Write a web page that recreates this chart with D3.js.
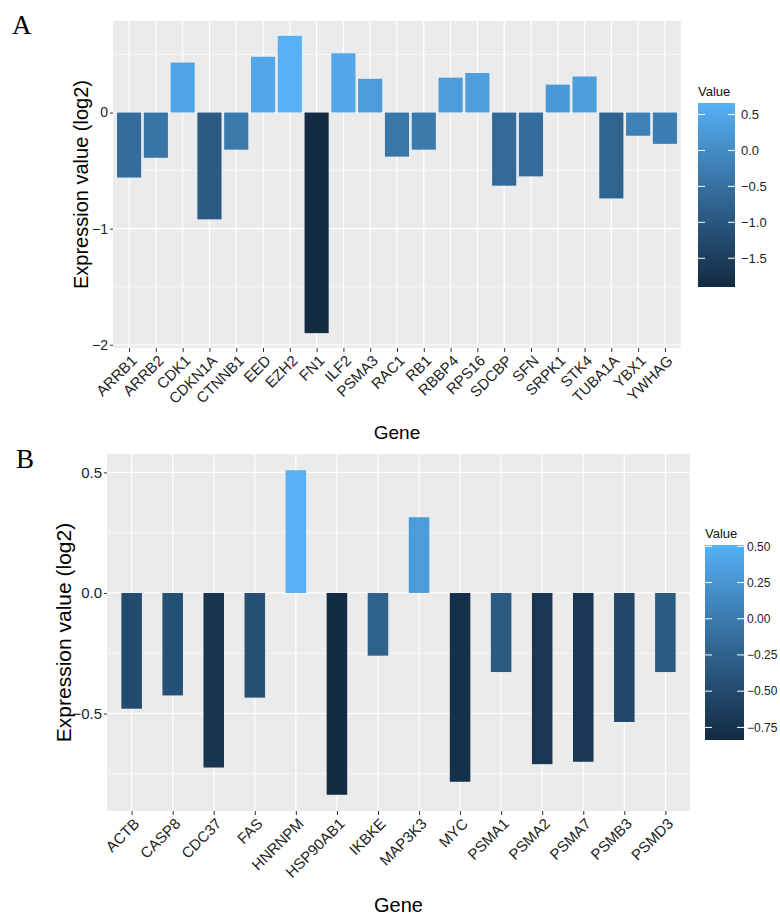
<!DOCTYPE html>
<html>
<head>
<meta charset="utf-8">
<script src="https://cdn.jsdelivr.net/npm/d3@7"></script>
<style>
  body { margin: 0; background: #fff; }
  text { font-family: "Liberation Sans", Arial, sans-serif; }
  text.letter { font-family: "Liberation Serif", "DejaVu Serif", serif; }
</style>
</head>
<body>
<script>
  // panel A data
  var genesA = ["ARRB1", "ARRB2", "CDK1", "CDKN1A", "CTNNB1", "EED", "EZH2", "FN1", "ILF2", "PSMA3", "RAC1",
    "RB1", "RBBP4", "RPS16", "SDCBP", "SFN", "SRPK1", "STK4", "TUBA1A", "YBX1", "YWHAG"];
  var valuesA = [-0.56, -0.39, 0.43, -0.92, -0.32, 0.48, 0.66, -1.90, 0.51, 0.29, -0.38,
    -0.32, 0.30, 0.34, -0.63, -0.55, 0.24, 0.31, -0.74, -0.20, -0.27];
  var yTicksA = [0, -1, -2];
  var yMinorA = [0.5, -0.5, -1.5];
  var legTicksA = [0.5, 0, -0.5, -1, -1.5];

  // panel B data
  var genesB = ["ACTB", "CASP8", "CDC37", "FAS", "HNRNPM", "HSP90AB1", "IKBKE", "MAP3K3", "MYC",
    "PSMA1", "PSMA2", "PSMA7", "PSMB3", "PSMD3"];
  var valuesB = [-0.48, -0.425, -0.724, -0.434, 0.509, -0.837, -0.26, 0.314, -0.783,
    -0.328, -0.71, -0.70, -0.535, -0.328];
  var yTicksB = [0.5, 0, -0.5];
  var yMinorB = [0.25, -0.25, -0.75];
  var legTicksB = [0.5, 0.25, 0, -0.25, -0.5, -0.75];

  var LOW = "#132B43", HIGH = "#56B1F7";

  var svg = d3.select("body").append("svg")
    .attr("width", 780)
    .attr("height", 920);

  var drawPanel = function(cfg) {
    var data = cfg.genes.map(function(g, i) { return {gene: g, value: cfg.values[i]}; });
    var ext = d3.extent(cfg.values);
    var pad = (ext[1] - ext[0]) * 0.05;

    // discrete axis with 0.6 expansion like ggplot
    var n = cfg.genes.length;
    var step = (cfg.x1 - cfg.x0) / (n - 1 + 1.2);
    var x = d3.scalePoint()
      .domain(cfg.genes)
      .range([cfg.x0 + 0.6 * step, cfg.x1 - 0.6 * step]);

    var y = d3.scaleLinear()
      .domain([ext[0] - pad, ext[1] + pad])
      .range([cfg.y1, cfg.y0]);

    var color = d3.scaleLinear()
      .domain(ext)
      .range([LOW, HIGH])
      .interpolate(d3.interpolateLab);

    var g = svg.append("g");

    g.append("rect")
      .attr("x", cfg.x0)
      .attr("y", cfg.y0)
      .attr("width", cfg.x1 - cfg.x0)
      .attr("height", cfg.y1 - cfg.y0)
      .attr("fill", "#EBEBEB");

    // grid
    g.selectAll(".minor")
      .data(cfg.minor)
      .enter()
      .append("line")
      .attr("x1", cfg.x0).attr("x2", cfg.x1)
      .attr("y1", function(d) { return y(d); })
      .attr("y2", function(d) { return y(d); })
      .attr("stroke", "#fff")
      .attr("stroke-width", 0.6);

    g.selectAll(".major")
      .data(cfg.ticks)
      .enter()
      .append("line")
      .attr("x1", cfg.x0).attr("x2", cfg.x1)
      .attr("y1", function(d) { return y(d); })
      .attr("y2", function(d) { return y(d); })
      .attr("stroke", "#fff")
      .attr("stroke-width", 1.2);

    g.selectAll(".vgrid")
      .data(cfg.genes)
      .enter()
      .append("line")
      .attr("x1", function(d) { return x(d); })
      .attr("x2", function(d) { return x(d); })
      .attr("y1", cfg.y0).attr("y2", cfg.y1)
      .attr("stroke", "#fff")
      .attr("stroke-width", 1.2);

    // bars
    var bw = step * cfg.barWidth;
    g.selectAll(".bar")
      .data(data)
      .enter()
      .append("rect")
      .attr("x", function(d) { return x(d.gene) - bw / 2; })
      .attr("y", function(d) { return y(Math.max(0, d.value)); })
      .attr("width", bw)
      .attr("height", function(d) { return Math.abs(y(d.value) - y(0)); })
      .attr("fill", function(d) { return color(d.value); });

    // y axis
    var yAxis = g.append("g")
      .attr("transform", "translate(" + cfg.x0 + ",0)")
      .call(d3.axisLeft(y).tickValues(cfg.ticks).tickSize(3).tickPadding(2)
        .tickFormat(function(d) { return cfg.fmt(d); }));
    yAxis.select(".domain").remove();
    yAxis.selectAll("line").attr("stroke", "#333");
    yAxis.selectAll("text")
      .attr("font-size", cfg.tickFont)
      .attr("fill", "#222");

    // x axis
    var xAxis = g.append("g")
      .attr("transform", "translate(0," + cfg.y1 + ")")
      .call(d3.axisBottom(x).tickSize(4).tickFormat(""));
    xAxis.select(".domain").remove();
    xAxis.selectAll("line").attr("stroke", "#333");

    g.selectAll(".xlab")
      .data(cfg.genes)
      .enter()
      .append("text")
      .attr("transform", function(d) {
        return "translate(" + (x(d) + 5) + "," + (cfg.y1 + 10) + ") rotate(-45)";
      })
      .attr("text-anchor", "end")
      .attr("dy", "0.35em")
      .attr("font-size", cfg.labFont)
      .attr("fill", "#222")
      .text(function(d) { return d; });

    // titles
    g.append("text")
      .attr("transform", "translate(" + cfg.yTitleX + "," + ((cfg.y0 + cfg.y1) / 2) + ") rotate(-90)")
      .attr("text-anchor", "middle")
      .attr("font-size", cfg.titleFont)
      .attr("fill", "#000")
      .text("Expression value (log2)");

    g.append("text")
      .attr("x", (cfg.x0 + cfg.x1) / 2)
      .attr("y", cfg.xTitleY)
      .attr("text-anchor", "middle")
      .attr("font-size", cfg.xTitleFont)
      .attr("fill", "#000")
      .text("Gene");

    g.append("text")
      .attr("class", "letter")
      .attr("x", cfg.letterX)
      .attr("y", cfg.letterY)
      .attr("font-size", 27)
      .attr("fill", "#000")
      .text(cfg.letter);

    // colour bar legend
    var L = cfg.legend;
    var gradId = "grad" + cfg.letter;
    var grad = svg.append("defs").append("linearGradient")
      .attr("id", gradId)
      .attr("x1", 0).attr("y1", 1).attr("x2", 0).attr("y2", 0);
    d3.range(0, 1.0001, 0.1).forEach(function(t) {
      grad.append("stop")
        .attr("offset", t)
        .attr("stop-color", color(ext[0] + t * (ext[1] - ext[0])));
    });

    var ly = d3.scaleLinear().domain(ext).range([L.y1, L.y0]);

    g.append("text")
      .attr("x", L.x0)
      .attr("y", L.y0 - 7)
      .attr("font-size", 13)
      .attr("fill", "#111")
      .text("Value");

    g.append("rect")
      .attr("x", L.x0)
      .attr("y", L.y0)
      .attr("width", L.x1 - L.x0)
      .attr("height", L.y1 - L.y0)
      .attr("fill", "url(#" + gradId + ")");

    var lt = g.selectAll(".ltick")
      .data(L.ticks)
      .enter()
      .append("g")
      .attr("transform", function(d) { return "translate(0," + ly(d) + ")"; });

    lt.append("line")
      .attr("x1", L.x0).attr("x2", L.x0 + 7)
      .attr("stroke", "#fff").attr("stroke-width", 1);
    lt.append("line")
      .attr("x1", L.x1 - 7).attr("x2", L.x1)
      .attr("stroke", "#fff").attr("stroke-width", 1);
    lt.append("text")
      .attr("x", L.x1 + L.gap)
      .attr("dy", "0.35em")
      .attr("font-size", L.font)
      .attr("fill", "#222")
      .text(function(d) { return L.fmt(d); });
  };

  drawPanel({
    letter: "A", letterX: 12, letterY: 34,
    genes: genesA, values: valuesA,
    ticks: yTicksA, minor: yMinorA,
    fmt: d3.format("d"),
    x0: 113, x1: 681, y0: 21, y1: 348,
    barWidth: 0.9,
    tickFont: 14, labFont: 15, titleFont: 20, xTitleFont: 19,
    yTitleX: 88, xTitleY: 439,
    legend: {x0: 698, x1: 735, y0: 103, y1: 287, ticks: legTicksA, fmt: d3.format(".1f"), gap: 6, font: 13}
  });

  drawPanel({
    letter: "B", letterX: 16, letterY: 468,
    genes: genesB, values: valuesB,
    ticks: yTicksB, minor: yMinorB,
    fmt: d3.format(".1f"),
    x0: 107, x1: 690, y0: 454, y1: 811,
    barWidth: 0.5,
    tickFont: 15, labFont: 15, titleFont: 21, xTitleFont: 20,
    yTitleX: 71, xTitleY: 912,
    legend: {x0: 705, x1: 744, y0: 545, y1: 740, ticks: legTicksB, fmt: d3.format(".2f"), gap: 3, font: 12}
  });
</script>
</body>
</html>
